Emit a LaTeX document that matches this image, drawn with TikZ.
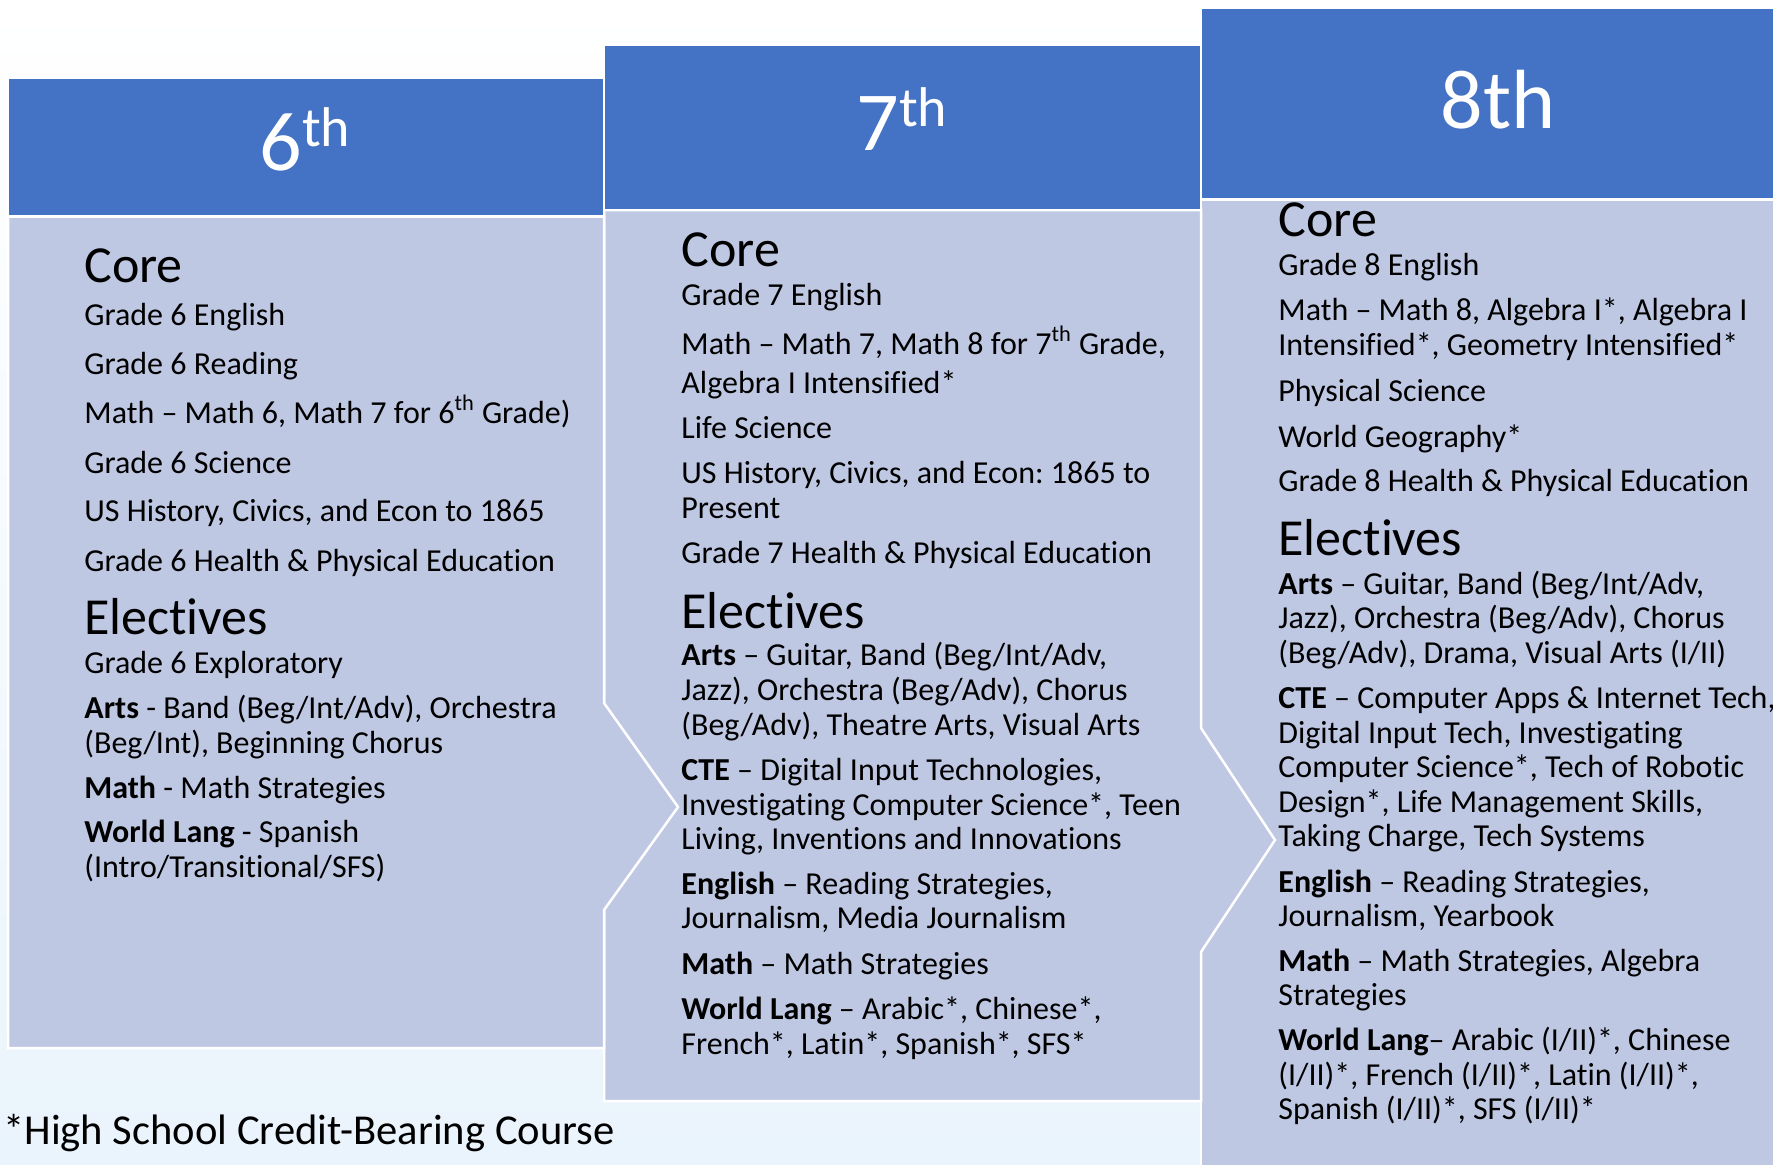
\documentclass[tikz,border=0pt]{standalone}
\usepackage{fontspec}
\setmainfont[Ligatures=NoCommon]{Carlito}
\definecolor{hdrblue}{RGB}{68,114,196}
\definecolor{bodyblue}{RGB}{191,200,227}
\definecolor{bgblue}{RGB}{234,244,252}
\frenchspacing
\begin{document}
\begin{tikzpicture}[x=0.5pt,y=-0.5pt,
  txt/.style={anchor=base west, inner sep=0pt, font=\fontsize{16}{19}\selectfont},
  headtxt/.style={anchor=base west, inner sep=0pt, font=\fontsize{26}{30}\selectfont},
  grade/.style={anchor=base, inner sep=0pt, text=white, font=\fontsize{42}{46}\selectfont},
  note/.style={anchor=base west, inner sep=0pt, font=\fontsize{21.3}{25}\selectfont},
  hdr/.style={fill=hdrblue, draw=white, line width=1.25pt},
  bodybox/.style={fill=bodyblue, draw=white, line width=1.25pt}]
\useasboundingbox (0,0) rectangle (1773,1164);
\clip (0,0) rectangle (1773,1164);
\shade[top color=white, bottom color=bgblue] (0,0) rectangle (1773,1164);
% panel 3
\path[bodybox] (1201,199.5) rectangle (1800,1190);
\path[hdr] (1201,8) rectangle (1800,199.5);
% panel 2
\path[bodybox] (604,210) -- (1201,210) -- (1201,728) -- (1275,840) -- (1201,952) -- (1201,1101) -- (604,1101) -- cycle;
\path[hdr] (604,45) rectangle (1201,210);
% panel 1
\path[bodybox] (8,216.5) -- (604,216.5) -- (604,703) -- (678,807) -- (604,910) -- (604,1048) -- (8,1048) -- cycle;
\path[hdr] (8,78) rectangle (604,216.5);
% grade titles
\node[grade] (g6) at (305,170) {6{\fontsize{28}{30}\selectfont\raisebox{12pt}{th}}};
\node[grade] (g7) at (902,150) {7{\fontsize{28}{30}\selectfont\raisebox{12pt}{th}}};
\node[grade] (g8) at (1498,128) {8th};
% panel 1 text
\node[headtxt] (a1) at (84,282) {Core};
\node[txt] (a2) at (84,325) {Grade 6 English};
\node[txt] (a3) at (84,374) {Grade 6 Reading};
\node[txt] (a4) at (84,423) {Math – Math 6, Math 7 for 6\textsuperscript{th} Grade)};
\node[txt] (a5) at (84,473) {Grade 6 Science};
\node[txt] (a6) at (84,521) {US History, Civics, and Econ to 1865};
\node[txt] (a7) at (84,571) {Grade 6 Health \& Physical Education};
\node[headtxt] (a8) at (84,634) {Electives};
\node[txt] (a9) at (84,673) {Grade 6 Exploratory};
\node[txt] (a10) at (84,718) {\textbf{Arts} - Band (Beg/Int/Adv), Orchestra};
\node[txt] (a11) at (84,753) {(Beg/Int), Beginning Chorus};
\node[txt] (a12) at (84,798) {\textbf{Math} - Math Strategies};
\node[txt] (a13) at (84,842) {\textbf{World Lang} - Spanish};
\node[txt] (a14) at (84,877) {(Intro/Transitional/SFS)};
% panel 2 text
\node[headtxt] (b1) at (681,266) {Core};
\node[txt] (b2) at (681,305) {Grade 7 English};
\node[txt] (b3) at (681,354) {Math – Math 7, Math 8 for 7\textsuperscript{th} Grade,};
\node[txt] (b4) at (681,393) {Algebra I Intensified*};
\node[txt] (b5) at (681,438) {Life Science};
\node[txt] (b6) at (681,483) {US History, Civics, and Econ: 1865 to};
\node[txt] (b7) at (681,518) {Present};
\node[txt] (b8) at (681,563) {Grade 7 Health \& Physical Education};
\node[headtxt] (b9) at (681,628) {Electives};
\node[txt] (b10) at (681,665) {\textbf{Arts} – Guitar, Band (Beg/Int/Adv,};
\node[txt] (b11) at (681,700) {Jazz), Orchestra (Beg/Adv), Chorus};
\node[txt] (b12) at (681,735) {(Beg/Adv), Theatre Arts, Visual Arts};
\node[txt] (b13) at (681,780) {\textbf{CTE} – Digital Input Technologies,};
\node[txt] (b14) at (681,815) {Investigating Computer Science*, Teen};
\node[txt] (b15) at (681,849) {Living, Inventions and Innovations};
\node[txt] (b16) at (681,894) {\textbf{English} – Reading Strategies,};
\node[txt] (b17) at (681,928) {Journalism, Media Journalism};
\node[txt] (b18) at (681,974) {\textbf{Math} – Math Strategies};
\node[txt] (b19) at (681,1019) {\textbf{World Lang} – Arabic*, Chinese*,};
\node[txt] (b20) at (681,1054) {French*, Latin*, Spanish*, SFS*};
% panel 3 text
\node[headtxt] (c1) at (1278,236) {Core};
\node[txt] (c2) at (1278,275) {Grade 8 English};
\node[txt] (c3) at (1278,320) {Math – Math 8, Algebra I*, Algebra I};
\node[txt] (c4) at (1278,355) {Intensified*, Geometry Intensified*};
\node[txt] (c5) at (1278,401) {Physical Science};
\node[txt] (c6) at (1278,447) {World Geography*};
\node[txt] (c7) at (1278,491) {Grade 8 Health \& Physical Education};
\node[headtxt] (c8) at (1278,555) {Electives};
\node[txt] (c9) at (1278,594) {\textbf{Arts} – Guitar, Band (Beg/Int/Adv,};
\node[txt] (c10) at (1278,628) {Jazz), Orchestra (Beg/Adv), Chorus};
\node[txt] (c11) at (1278,663) {(Beg/Adv), Drama, Visual Arts (I/II)};
\node[txt] (c12) at (1278,708) {\textbf{CTE} – Computer Apps \& Internet Tech,};
\node[txt] (c13) at (1278,743) {Digital Input Tech, Investigating};
\node[txt] (c14) at (1278,777) {Computer Science*, Tech of Robotic};
\node[txt] (c15) at (1278,812) {Design*, Life Management Skills,};
\node[txt] (c16) at (1278,846) {Taking Charge, Tech Systems};
\node[txt] (c17) at (1278,892) {\textbf{English} – Reading Strategies,};
\node[txt] (c18) at (1278,926) {Journalism, Yearbook};
\node[txt] (c19) at (1278,971) {\textbf{Math} – Math Strategies, Algebra};
\node[txt] (c20) at (1278,1005) {Strategies};
\node[txt] (c21) at (1278,1050) {\textbf{World Lang}– Arabic (I/II)*, Chinese};
\node[txt] (c22) at (1278,1085) {(I/II)*, French (I/II)*, Latin (I/II)*,};
\node[txt] (c23) at (1278,1119) {Spanish (I/II)*, SFS (I/II)*};
% footnote
\node[note] (fn) at (3,1144) {*High School Credit-Bearing Course};
\end{tikzpicture}
\end{document}
